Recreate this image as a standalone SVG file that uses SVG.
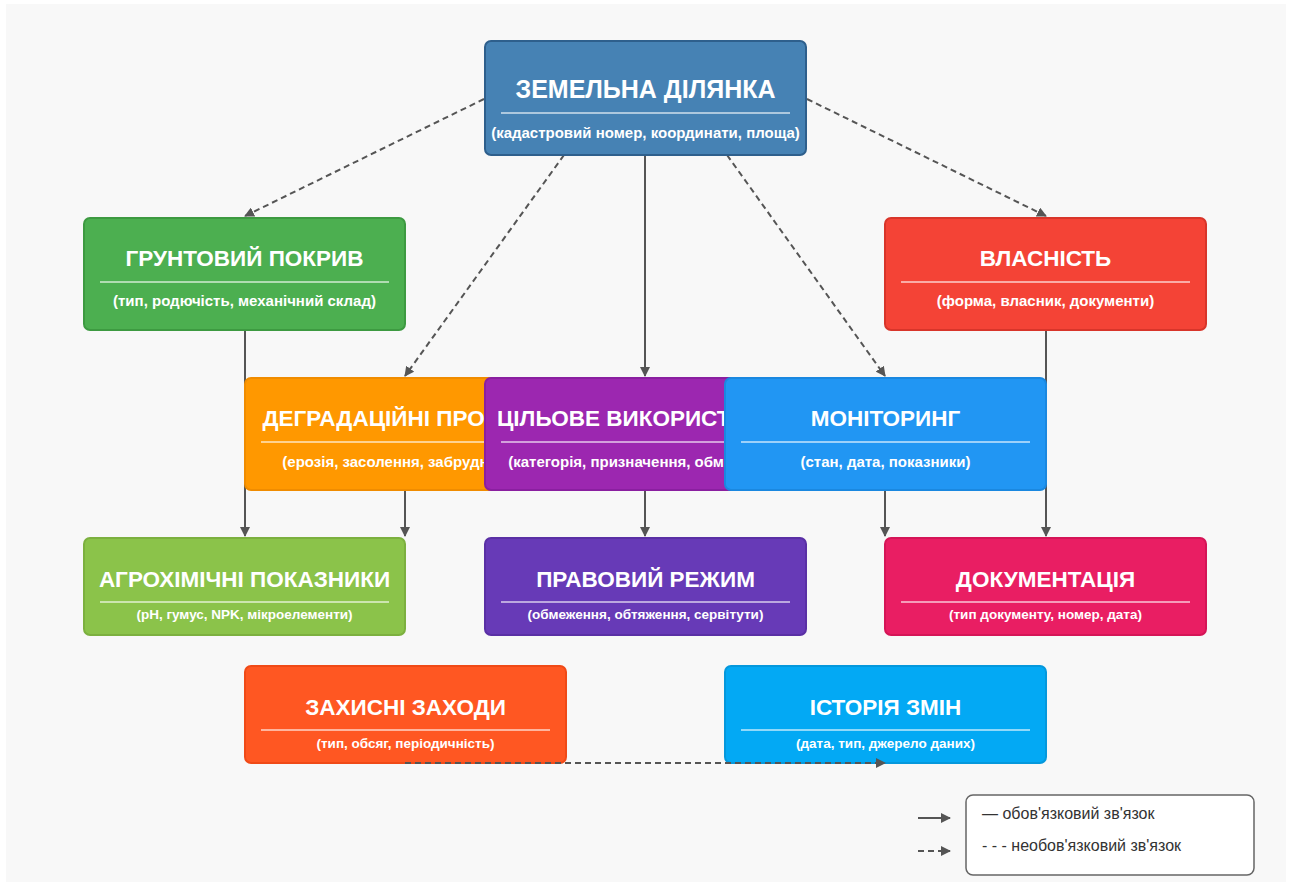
<svg xmlns="http://www.w3.org/2000/svg" width="1292" height="886" viewBox="0 0 1292 886">
<defs>
<style>
.box{stroke-width:2}
.t{font-family:"Liberation Sans",Arial,sans-serif;font-weight:bold;fill:#fff;text-anchor:middle}
.title{font-size:22.5px}
.big{font-size:25px}
.sub{font-size:15px}
.sub2{font-size:13.5px}
.sep{stroke:#fff;stroke-opacity:0.75;stroke-width:1.5}
.c{stroke:#555;stroke-width:2;fill:none}
.d{stroke-dasharray:6,4}
.leg{font-family:"Liberation Sans",Arial,sans-serif;font-size:16px;fill:#333}
</style>
<marker id="ah" markerWidth="10" markerHeight="10" refX="9" refY="5" orient="auto" markerUnits="userSpaceOnUse">
<path d="M0,0 L10,5 L0,10 Z" fill="#555"/>
</marker>
</defs>
<rect x="0" y="0" width="1292" height="886" fill="#fff"/>
<rect x="6" y="4" width="1280" height="878" fill="#f8f8f8"/>

<g id="connectors">
<line class="c d" x1="484" y1="99" x2="245" y2="216" marker-end="url(#ah)"/>
<line class="c d" x1="807" y1="99" x2="1046" y2="216" marker-end="url(#ah)"/>
<line class="c d" x1="564" y1="155" x2="405" y2="376" marker-end="url(#ah)"/>
<line class="c" x1="645" y1="155" x2="645" y2="376" marker-end="url(#ah)"/>
<line class="c d" x1="727" y1="155" x2="885" y2="376" marker-end="url(#ah)"/>
<line class="c" x1="245" y1="330" x2="245" y2="536" marker-end="url(#ah)"/>
<line class="c" x1="1046" y1="330" x2="1046" y2="536" marker-end="url(#ah)"/>
<line class="c" x1="405" y1="490" x2="405" y2="536" marker-end="url(#ah)"/>
<line class="c" x1="645" y1="490" x2="645" y2="536" marker-end="url(#ah)"/>
<line class="c" x1="885" y1="490" x2="885" y2="536" marker-end="url(#ah)"/>
</g>

<g id="n-zemelna">
<rect class="box" x="485" y="41" width="321" height="114" rx="6" fill="#4682b4" stroke="#2e5f8c"/>
<text class="t big" x="645.5" y="98">ЗЕМЕЛЬНА ДІЛЯНКА</text>
<line class="sep" x1="501" y1="113" x2="790" y2="113"/>
<text class="t sub" x="645.5" y="138">(кадастровий номер, координати, площа)</text>
</g>

<g id="n-grunt">
<rect class="box" x="84" y="218" width="321" height="112" rx="6" fill="#4caf50" stroke="#3d9a41"/>
<text class="t title" x="244.5" y="266">ГРУНТОВИЙ ПОКРИВ</text>
<line class="sep" x1="100" y1="282" x2="389" y2="282"/>
<text class="t sub" x="244.5" y="306">(тип, родючість, механічний склад)</text>
</g>

<g id="n-vlasnist">
<rect class="box" x="885" y="218" width="321" height="112" rx="6" fill="#f44336" stroke="#d8352a"/>
<text class="t title" x="1045.5" y="266">ВЛАСНІСТЬ</text>
<line class="sep" x1="901" y1="282" x2="1190" y2="282"/>
<text class="t sub" x="1045.5" y="306">(форма, власник, документи)</text>
</g>

<g id="n-degrad">
<rect class="box" x="245" y="378" width="321" height="112" rx="6" fill="#ff9800" stroke="#f08c00"/>
<text class="t title" x="405.5" y="426">ДЕГРАДАЦІЙНІ ПРОЦЕСИ</text>
<line class="sep" x1="261" y1="442" x2="550" y2="442"/>
<text class="t sub" x="405.5" y="467">(ерозія, засолення, забруднення)</text>
</g>

<g id="n-cilove">
<rect class="box" x="485" y="378" width="321" height="112" rx="6" fill="#9c27b0" stroke="#8a1fa0"/>
<text class="t title" x="645.5" y="426">ЦІЛЬОВЕ ВИКОРИСТАННЯ</text>
<line class="sep" x1="501" y1="442" x2="790" y2="442"/>
<text class="t sub" x="645.5" y="467">(категорія, призначення, обмеження)</text>
</g>

<g id="n-monitoring">
<rect class="box" x="725" y="378" width="321" height="112" rx="6" fill="#2196f3" stroke="#1a88e0"/>
<text class="t title" x="885.5" y="426">МОНІТОРИНГ</text>
<line class="sep" x1="741" y1="442" x2="1030" y2="442"/>
<text class="t sub" x="885.5" y="467">(стан, дата, показники)</text>
</g>

<g id="n-agro">
<rect class="box" x="84" y="538" width="321" height="97" rx="6" fill="#8bc34a" stroke="#7cb03f"/>
<text class="t title" x="244.5" y="587">АГРОХІМІЧНІ ПОКАЗНИКИ</text>
<line class="sep" x1="100" y1="602" x2="389" y2="602"/>
<text class="t sub2" x="244.5" y="619">(pH, гумус, NPK, мікроелементи)</text>
</g>

<g id="n-pravovyi">
<rect class="box" x="485" y="538" width="321" height="97" rx="6" fill="#673ab7" stroke="#5a30a5"/>
<text class="t title" x="645.5" y="587">ПРАВОВИЙ РЕЖИМ</text>
<line class="sep" x1="501" y1="602" x2="790" y2="602"/>
<text class="t sub2" x="645.5" y="619">(обмеження, обтяження, сервітути)</text>
</g>

<g id="n-dokument">
<rect class="box" x="885" y="538" width="321" height="97" rx="6" fill="#e91e63" stroke="#d51557"/>
<text class="t title" x="1045.5" y="587">ДОКУМЕНТАЦІЯ</text>
<line class="sep" x1="901" y1="602" x2="1190" y2="602"/>
<text class="t sub2" x="1045.5" y="619">(тип документу, номер, дата)</text>
</g>

<g id="n-zakhysni">
<rect class="box" x="245" y="666" width="321" height="97" rx="6" fill="#ff5722" stroke="#f04a17"/>
<text class="t title" x="405.5" y="715">ЗАХИСНІ ЗАХОДИ</text>
<line class="sep" x1="261" y1="730" x2="550" y2="730"/>
<text class="t sub2" x="405.5" y="748">(тип, обсяг, періодичність)</text>
</g>

<g id="n-istoria">
<rect class="box" x="725" y="666" width="321" height="97" rx="6" fill="#03a9f4" stroke="#0598dc"/>
<text class="t title" x="885.5" y="715">ІСТОРІЯ ЗМІН</text>
<line class="sep" x1="741" y1="730" x2="1030" y2="730"/>
<text class="t sub2" x="885.5" y="748">(дата, тип, джерело даних)</text>
</g>

<g id="connectors-top">
<line class="c d" x1="405" y1="763" x2="885" y2="763" marker-end="url(#ah)"/>
</g>

<g id="legend">
<rect x="966" y="795" width="288" height="80" rx="7" fill="#fff" stroke="#666" stroke-width="1.5"/>
<text class="leg" x="982" y="819">— обов'язковий зв'язок</text>
<text class="leg" x="982" y="851">- - - необов'язковий зв'язок</text>
<line class="c" x1="918" y1="818" x2="950" y2="818" marker-end="url(#ah)"/>
<line class="c" x1="918" y1="851" x2="950" y2="851" stroke-dasharray="6,4" marker-end="url(#ah)"/>
</g>
</svg>
